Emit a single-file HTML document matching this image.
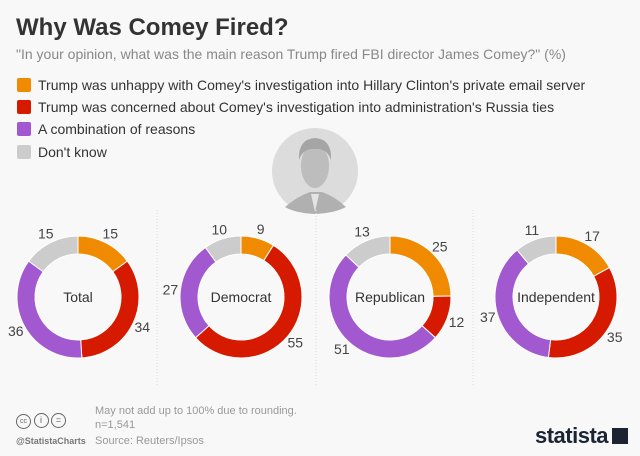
<!DOCTYPE html>
<html><head><meta charset="utf-8"><style>
body{margin:0;width:640px;height:456px;background:#f8f8f8;font-family:"Liberation Sans",sans-serif;overflow:hidden;position:relative}
.t{position:absolute;white-space:nowrap}
.leg{position:absolute;left:17px;font-size:14px;color:#333;white-space:nowrap}
.sw{display:inline-block;width:14px;height:14px;border-radius:2px;vertical-align:-2px;margin-right:7px}
</style></head><body>
<div class="t" style="left:16px;top:14px;font-size:24px;font-weight:bold;color:#333">Why Was Comey Fired?</div>
<div class="t" style="left:16px;top:46px;font-size:14px;color:#888">"In your opinion, what was the main reason Trump fired FBI director James Comey?" (%)</div>
<div class="leg" style="top:77px"><span class="sw" style="background:#f08a00"></span>Trump was unhappy with Comey's investigation into Hillary Clinton's private email server</div>
<div class="leg" style="top:99px"><span class="sw" style="background:#d61a00"></span>Trump was concerned about Comey's investigation into administration's Russia ties</div>
<div class="leg" style="top:121px"><span class="sw" style="background:#a259d0"></span>A combination of reasons</div>
<div class="leg" style="top:144px"><span class="sw" style="background:#cccccc"></span>Don't know</div>
<svg width="640" height="456" style="position:absolute;left:0;top:0" id="chart">
<g>
<circle cx="315" cy="171" r="43" fill="#dcdcdc"/>
<path d="M285 207 Q298 196 310 192 L322 192 Q334 196 346 207 Q335 213 315 214 Q295 213 285 207Z" fill="#b0b0b0"/>
<path d="M311 194 L315 212 L319 194Z" fill="#e4e4e4"/>
<ellipse cx="315" cy="166" rx="14" ry="22" fill="#bdbdbd"/>
<path d="M299 160 Q298 139 315 138 Q332 139 331 160 Q327 148 315 149 Q303 148 299 160Z" fill="#a5a5a5"/>
</g>
<line x1="157" y1="210" x2="157" y2="385" stroke="#ddd" stroke-dasharray="1,2"/>
<line x1="316" y1="210" x2="316" y2="385" stroke="#ddd" stroke-dasharray="1,2"/>
<line x1="473" y1="210" x2="473" y2="385" stroke="#ddd" stroke-dasharray="1,2"/>
</svg>
<div class="t" style="left:95px;top:404px;font-size:11px;color:#999;line-height:14px">May not add up to 100% due to rounding.<br>n=1,541</div>
<div class="t" style="left:95px;top:435px;font-size:11px;color:#999">Source: Reuters/Ipsos</div>
<div class="t" style="left:16px;top:413px;font-size:9px;color:#666">
<span style="display:inline-block;width:13px;height:13px;border:1.5px solid #666;border-radius:50%;text-align:center;line-height:13px;font-size:7px">cc</span>
<span style="display:inline-block;width:13px;height:13px;border:1.5px solid #666;border-radius:50%;text-align:center;line-height:13px">i</span>
<span style="display:inline-block;width:13px;height:13px;border:1.5px solid #666;border-radius:50%;text-align:center;line-height:13px">=</span></div>
<div class="t" style="left:16px;top:436px;font-size:9px;font-weight:bold;color:#777">@StatistaCharts</div>
<div class="t" style="left:535px;top:423px;font-size:22px;font-weight:bold;color:#1a2433;letter-spacing:-0.5px">statista<span style="display:inline-block;width:16px;height:16px;background:#1a2433;margin-left:4px;vertical-align:-1px"></span></div>
<script>
const groups=["Total","Democrat","Republican","Independent"];
const email=[15,9,25,17];
const russia=[34,55,12,35];
const combo=[36,27,51,37];
const dontKnow=[15,10,13,11];
const colors=["#f08a00","#d61a00","#a259d0","#cccccc"];
const centersX=[78,241,390,556], cy=297, R=61, r=43, LR=71;
const svg=document.getElementById('chart');
const NS="http://www.w3.org/2000/svg";
function pt(cx,rad,a){return [cx+rad*Math.sin(a),cy-rad*Math.cos(a)];}
function ang(v,tot){return v/tot*2*Math.PI;}
groups.forEach((g,i)=>{
  const vals=[email[i],russia[i],combo[i],dontKnow[i]];
  const tot=vals.reduce((a,b)=>a+b,0);
  let start=0;const cx=centersX[i];
  vals.forEach((v,k)=>{
    const a0=ang(start,tot),a1=ang(start+v,tot);
    const lg=(a1-a0)>Math.PI?1:0;
    const [x0,y0]=pt(cx,R,a0),[x1,y1]=pt(cx,R,a1),[x2,y2]=pt(cx,r,a1),[x3,y3]=pt(cx,r,a0);
    const p=document.createElementNS(NS,'path');
    p.setAttribute('d',`M${x0} ${y0}A${R} ${R} 0 ${lg} 1 ${x1} ${y1}L${x2} ${y2}A${r} ${r} 0 ${lg} 0 ${x3} ${y3}Z`);
    p.setAttribute('fill',colors[k]);p.setAttribute('stroke','#fff');p.setAttribute('stroke-width','1');
    
    
    svg.appendChild(p);
    const [lx,ly]=pt(cx,LR,(a0+a1)/2);
    const t=document.createElementNS(NS,'text');
    t.setAttribute('x',lx);t.setAttribute('y',ly+5);t.setAttribute('text-anchor','middle');
    t.setAttribute('font-size','14');t.setAttribute('fill','#444');t.setAttribute('font-family','Liberation Sans, sans-serif');
    t.textContent=v;
    
    
    svg.appendChild(t);
    start+=v;
  });
  const c=document.createElementNS(NS,'text');
  c.setAttribute('x',cx);c.setAttribute('y',cy+5);c.setAttribute('text-anchor','middle');
  c.setAttribute('font-size','14');c.setAttribute('fill','#333');c.setAttribute('font-family','Liberation Sans, sans-serif');
  c.textContent=g;
  
  
  svg.appendChild(c);
});
</script>
</body></html>
